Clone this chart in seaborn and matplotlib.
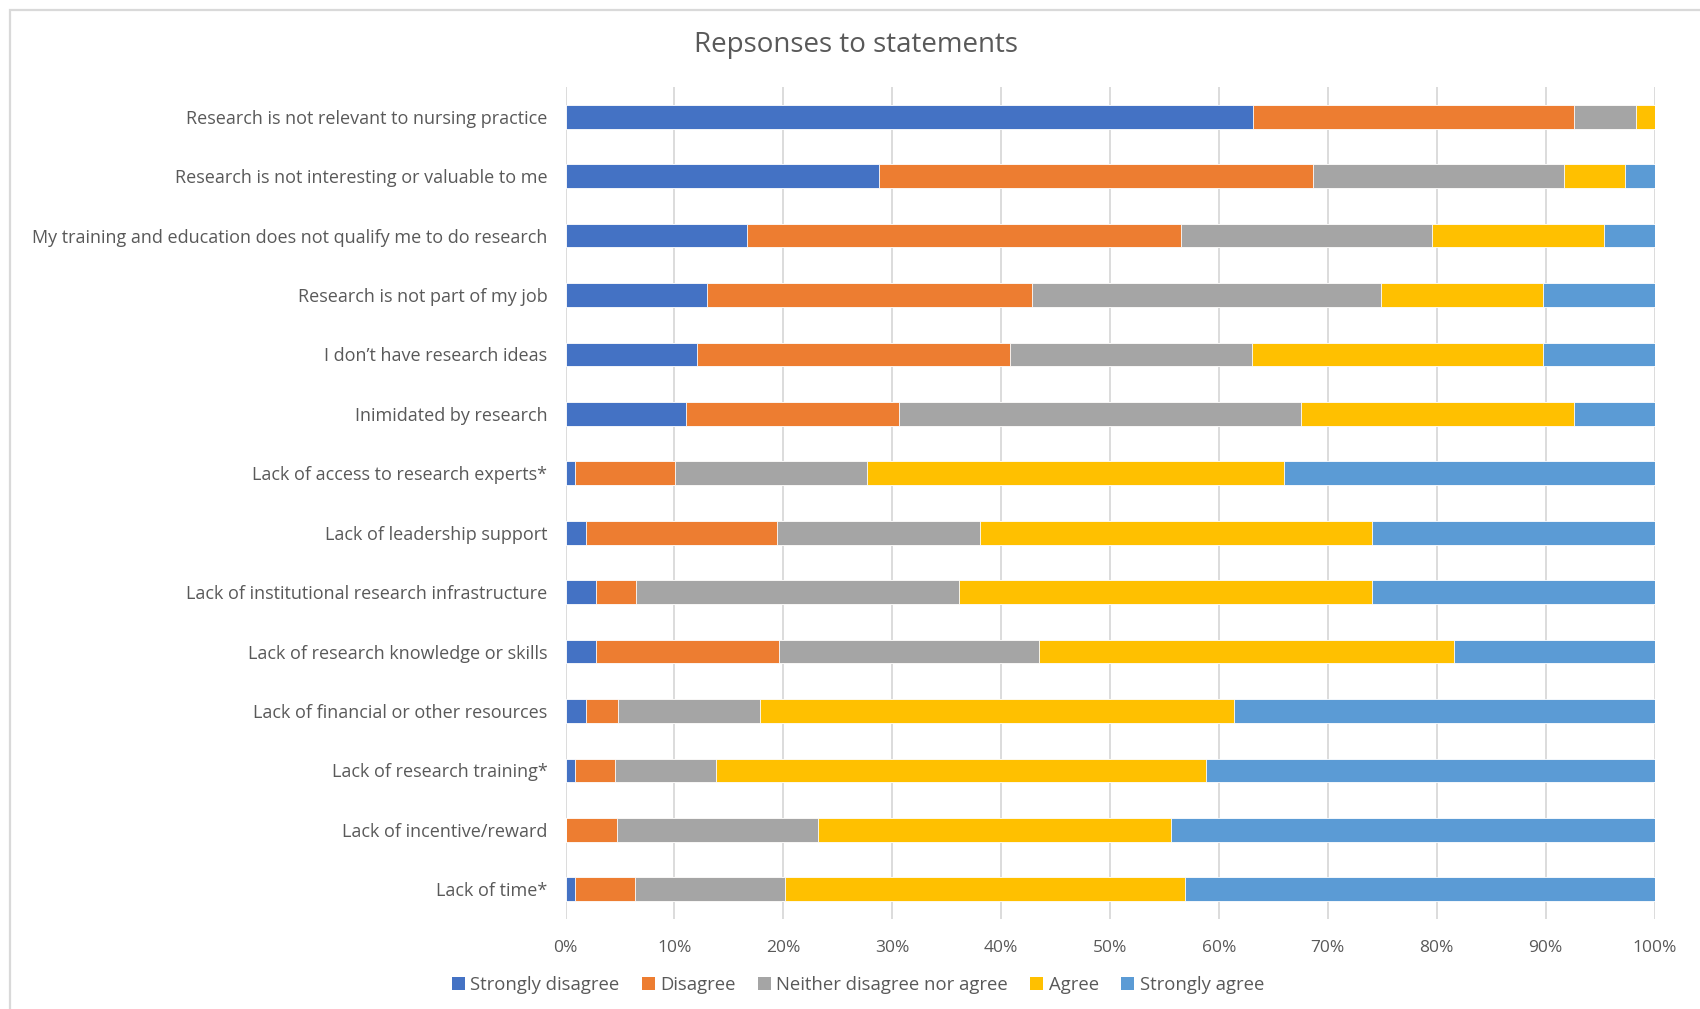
import matplotlib
matplotlib.use("Agg")
import matplotlib.pyplot as plt
from matplotlib.patches import Rectangle, Patch
import seaborn as sns
import pandas as pd
import numpy as np

statements = [
    "Research is not relevant to nursing practice",
    "Research is not interesting or valuable to me",
    "My training and education does not qualify me to do research",
    "Research is not part of my job",
    "I don\u2019t have research ideas",
    "Inimidated by research",
    "Lack of access to research experts*",
    "Lack of leadership support",
    "Lack of institutional research infrastructure",
    "Lack of research knowledge or skills",
    "Lack of financial or other resources",
    "Lack of research training*",
    "Lack of incentive/reward",
    "Lack of time*",
]

levels = ["Strongly disagree", "Disagree", "Neither disagree nor agree", "Agree", "Strongly agree"]

strongly_disagree = [63.1, 28.8, 16.7, 13.0, 12.1, 11.1, 0.9, 1.9, 2.8, 2.8, 1.9, 0.9, 0.0, 0.9]
disagree          = [29.5, 39.8, 39.8, 29.8, 28.7, 19.5, 9.2, 17.5, 3.7, 16.8, 2.9, 3.6, 4.7, 5.5]
neither           = [5.7, 23.1, 23.1, 32.1, 22.2, 36.9, 17.6, 18.7, 29.6, 23.9, 13.1, 9.3, 18.5, 13.8]
agree             = [1.7, 5.6, 15.8, 14.9, 26.8, 25.1, 38.3, 36.0, 38.0, 38.1, 43.5, 45.0, 32.4, 36.7]
strongly_agree    = [0.0, 2.7, 4.6, 10.2, 10.2, 7.4, 34.0, 25.9, 25.9, 18.4, 38.6, 41.2, 44.4, 43.1]

colors = ["#4472C4", "#ED7D31", "#A5A5A5", "#FFC000", "#5B9BD5"]

values = [strongly_disagree, disagree, neither, agree, strongly_agree]
df = pd.DataFrame({lvl: v for lvl, v in zip(levels, values)}, index=statements)
cum = df.cumsum(axis=1)

sns.set_theme(style="white")
plt.rcParams["font.family"] = ["Open Sans", "DejaVu Sans"]
text_color = "#595959"

fig = plt.figure(figsize=(17, 10.09), dpi=100)
ax = fig.add_axes([565.5 / 1700, 1 - 919 / 1009, 1089 / 1700, (919 - 87) / 1009])

# frame around chart area
fig.patches.append(Rectangle((10 / 1700, -0.01), 1.02, (1009 - 10) / 1009 + 0.01,
                             transform=fig.transFigure, fill=False,
                             edgecolor="#D9D9D9", linewidth=1.6, zorder=0))

for lvl, col in reversed(list(zip(levels, colors))):
    d = pd.DataFrame({"statement": statements, "value": cum[lvl].values})
    sns.barplot(data=d, x="value", y="statement", order=statements, color=col,
                orient="h", width=0.4, saturation=1, edgecolor="white",
                linewidth=0.6, ax=ax, zorder=3)

ax.set_xlim(0, 100)
ax.set_ylim(len(statements) - 0.5, -0.5)
ax.set_xticks(np.arange(0, 101, 10))
ax.set_xticklabels([f"{t}%" for t in range(0, 101, 10)])
ax.grid(axis="x", color="#D9D9D9", linewidth=1.3, zorder=0)
ax.set_axisbelow(True)
for s in ax.spines.values():
    s.set_visible(False)
ax.set_xlabel("")
ax.set_ylabel("")
ax.tick_params(axis="x", length=0, pad=15, labelsize=12.5, labelcolor=text_color)
ax.tick_params(axis="y", length=0, pad=13, labelsize=13, labelcolor=text_color)

fig.text(856 / 1700, 1 - 45 / 1009, "Repsonses to statements", ha="center", va="center",
         fontsize=20, color=text_color)

handles = [Patch(facecolor=c, edgecolor="none") for c in colors]
fig.legend(handles, levels, loc="center", bbox_to_anchor=(858 / 1700, 1 - 985 / 1009),
           ncol=5, frameon=False, fontsize=13.3, labelcolor=text_color,
           handlelength=0.7, handleheight=0.7, handletextpad=0.3, columnspacing=1.2)

fig.savefig("out.png", dpi=100, facecolor="white")
